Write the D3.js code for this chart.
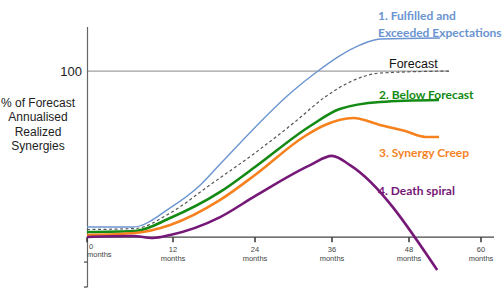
<!DOCTYPE html>
<html>
<head>
<meta charset="utf-8">
<script src="https://cdn.jsdelivr.net/npm/d3@7"></script>
<style>
  html, body { margin: 0; padding: 0; background: #fff; }
  svg { display: block; }
</style>
</head>
<body>
<svg id="chart" width="504" height="299"></svg>
<script>
// tick months along the time axis
const tickMonths = [0, 12, 24, 36, 48, 60];

// each scenario: months and % of forecast realized synergies
const fulfilledMonths = [0, 6.4, 11.6, 16, 18.9, 29.9, 33.6, 37.2, 40.4, 43.5, 53.2];
const fulfilledValues = [6.1, 6.1, 17.6, 31.4, 44, 88, 99.4, 109.1, 115.7, 119.3, 119.9];

const forecastMonths = [0, 6.7, 11.6, 17.4, 24, 30.2, 34.9, 38.8, 43.5, 54.7];
const forecastValues = [4.6, 5.2, 14.5, 31.4, 50.7, 69.3, 84.3, 93.4, 98.8, 100];

const belowMonths = [0, 6.7, 11.6, 18.9, 24, 32.6, 37.2, 43.5, 53];
const belowValues = [3.1, 3.7, 11.5, 27.2, 42.2, 66.9, 77.1, 81.4, 82.6];

const creepMonths = [0, 6.7, 11.6, 18.9, 24, 31.8, 34.9, 39.3, 43.5, 47.4, 50.7, 53];
const creepValues = [1.3, 2.5, 7.3, 22.4, 37.4, 60.9, 67.5, 71.7, 67.5, 63.9, 60.3, 60.3];

const deathMonths = [0, 6.4, 9.2, 11.6, 18.9, 24, 32.6, 36, 38.8, 52.7];
const deathValues = [0.1, 0.7, -0.5, 1.3, 12.1, 24.7, 43.4, 48.9, 43.4, -19.8];

const forecastLevel = 100;
const belowZeroTicks = [-15, -30];

const svg = d3.select('#chart');

const x = d3.scaleLinear().domain(tickMonths).range([87, 173, 255, 332, 409, 481]);
const y = d3.scaleLinear().domain([-30, 126.5]).range([287, 27]);

const line = d3.line().x((d) => x(d[0])).y((d) => y(d[1])).curve(d3.curveMonotoneX);
const zip = (ms, vs) => ms.map((m, i) => [m, vs[i]]);

// 100% forecast gridline
svg.append('line')
  .attr('x1', x(0)).attr('x2', x(54.7))
  .attr('y1', y(forecastLevel)).attr('y2', y(forecastLevel))
  .attr('stroke', '#a0a0a0').attr('stroke-width', 1.3);

svg.append('text').attr('x', 82).attr('y', y(forecastLevel)).attr('dy', '0.35em')
  .attr('text-anchor', 'end').attr('font-family', 'Liberation Sans, Arial, sans-serif')
  .attr('font-size', 13).attr('fill', '#222').text('100');

// y axis
svg.append('line').attr('x1', 87.5).attr('x2', 87.5).attr('y1', y(126.5)).attr('y2', y(-30))
  .attr('stroke', '#666').attr('stroke-width', 1.2);
svg.append('g').selectAll('line').data(belowZeroTicks).join('line')
  .attr('x1', 84).attr('x2', 87.5).attr('y1', (d) => y(d)).attr('y2', (d) => y(d))
  .attr('stroke', '#444').attr('stroke-width', 1.2);

// y label
const ylab = svg.append('text').attr('text-anchor', 'middle')
  .attr('font-family', 'Liberation Sans, Arial, sans-serif').attr('font-size', 12).attr('fill', '#222');
['% of Forecast', 'Annualised', 'Realized', 'Synergies'].forEach((t, i) => {
  ylab.append('tspan').attr('x', 38).attr('y', 107 + i * 14.3).text(t);
});

// x axis
svg.append('line').attr('x1', x(0)).attr('x2', 494).attr('y1', y(0)).attr('y2', y(0))
  .attr('stroke', '#444').attr('stroke-width', 1.3);
const xt = svg.append('g').selectAll('g').data(tickMonths).join('g')
  .attr('transform', (d) => `translate(${x(d)},${y(0)})`);
xt.append('line').attr('y1', 0).attr('y2', 5).attr('stroke', '#333').attr('stroke-width', 1.5);
xt.append('text').attr('x', (d) => (d === 0 ? 2 : 0)).attr('y', (d) => (d === 0 ? 12 : 15))
  .attr('text-anchor', (d) => (d === 0 ? 'start' : 'middle'))
  .attr('font-family', 'Liberation Sans, Arial, sans-serif').attr('font-size', 7.5).attr('fill', '#444')
  .text((d) => d);
xt.append('text').attr('x', 0).attr('y', (d) => (d === 0 ? 20 : 24))
  .attr('text-anchor', (d) => (d === 0 ? 'start' : 'middle'))
  .attr('font-family', 'Liberation Sans, Arial, sans-serif').attr('font-size', 7.5).attr('fill', '#444')
  .text('months');

// scenario lines
const series = [
  { data: zip(fulfilledMonths, fulfilledValues), color: '#6a94d0', width: 1.4, dash: null },
  { data: zip(forecastMonths, forecastValues), color: '#555', width: 1.2, dash: '3,2.5' },
  { data: zip(belowMonths, belowValues), color: '#138a13', width: 2.6, dash: null },
  { data: zip(creepMonths, creepValues), color: '#f5821f', width: 2.6, dash: null },
  { data: zip(deathMonths, deathValues), color: '#761878', width: 2.6, dash: null },
];
svg.append('g').selectAll('path').data(series).join('path')
  .attr('d', (d) => line(d.data)).attr('fill', 'none')
  .attr('stroke', (d) => d.color).attr('stroke-width', (d) => d.width)
  .attr('stroke-dasharray', (d) => d.dash);

// series labels
const labels = [
  { lines: ['1. Fulfilled and', 'Exceeded Expectations'], color: '#6a94d0', x: 378, y: 16, bold: true },
  { lines: ['Forecast'], color: '#111', x: 389, y: 64, bold: false },
  { lines: ['2. Below Forecast'], color: '#138a13', x: 379, y: 95, bold: true },
  { lines: ['3. Synergy Creep'], color: '#f5821f', x: 379, y: 153, bold: true },
  { lines: ['4. Death spiral'], color: '#761878', x: 378, y: 191, bold: true },
];
labels.forEach((l) => {
  const t = svg.append('text').attr('font-family', l.bold ? 'Lato, Open Sans, sans-serif' : 'Liberation Sans, Arial, sans-serif')
    .attr('font-weight', l.bold ? 'bold' : 'normal').attr('font-size', l.bold ? 12 : 12.5).attr('fill', l.color);
  l.lines.forEach((s, i) => {
    t.append('tspan').attr('x', l.x).attr('y', l.y + i * 17).attr('dy', '0.35em').text(s);
  });
});
</script>
</body>
</html>
